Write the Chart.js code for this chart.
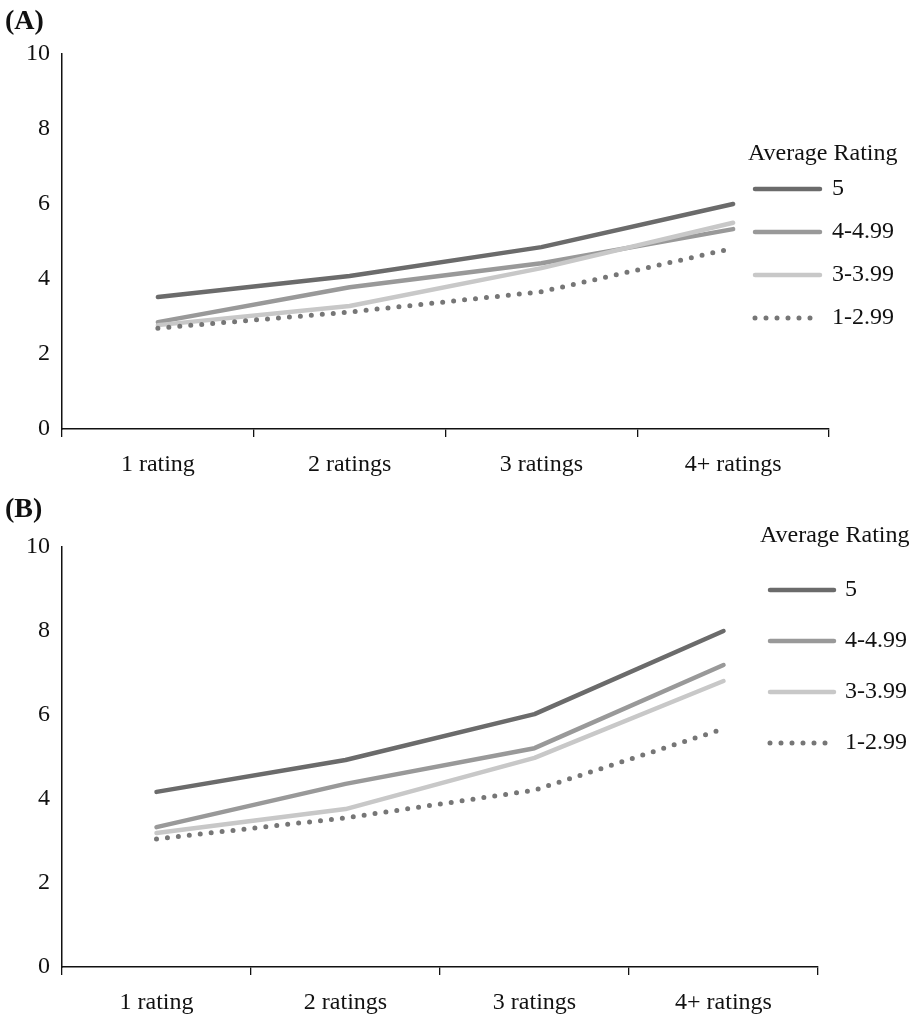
<!DOCTYPE html>
<html>
<head>
<meta charset="utf-8">
<script src="https://cdn.jsdelivr.net/npm/chart.js@4/dist/chart.umd.min.js"></script>
<style>
  html, body { margin: 0; padding: 0; background: #fff; }
  canvas { display: block; position: absolute; left: 0; }
  #cA { top: 0; }
  #cB { top: 480px; }
</style>
</head>
<body>
<canvas id="cA" width="921" height="480"></canvas>
<canvas id="cB" width="921" height="548"></canvas>
<script>
const categories = ["1 rating", "2 ratings", "3 ratings", "4+ ratings"];
const seriesLabels = ["5", "4-4.99", "3-3.99", "1-2.99"];
const yTicks = [0, 2, 4, 6, 8, 10];
const legendTitle = "Average Rating";

// Panel A
const panelA_5     = [3.52, 4.08, 4.85, 6.00];
const panelA_4     = [2.85, 3.78, 4.42, 5.33];
const panelA_3     = [2.77, 3.28, 4.29, 5.50];
const panelA_1     = [2.69, 3.12, 3.66, 4.82];
// Panel B
const panelB_5     = [4.17, 4.93, 6.02, 8.00];
const panelB_4     = [3.33, 4.36, 5.21, 7.19];
const panelB_3     = [3.19, 3.76, 4.98, 6.81];
const panelB_1     = [3.05, 3.55, 4.21, 5.67];

const FONT = '"Liberation Serif", "Times New Roman", serif';
const FSIZE = 24;
const styles = [
  { color: '#6b6b6b', dash: [], width: 4.5 },
  { color: '#999999', dash: [], width: 4.5 },
  { color: '#c8c8c8', dash: [], width: 4.5 },
  { color: '#767676', dash: [0, 11], width: 5 }
];

function makeDatasets(arrs) {
  return arrs.map((d, i) => ({
    label: seriesLabels[i],
    data: d,
    borderColor: styles[i].color,
    backgroundColor: styles[i].color,
    borderWidth: styles[i].width,
    borderDash: styles[i].dash,
    borderCapStyle: 'round',
    borderJoinStyle: 'round',
    pointRadius: 0,
    tension: 0,
    fill: false,
    order: 3 - i
  }));
}

const legendPlugin = {
  id: 'customLegend',
  afterDraw(chart, args, opts) {
    const ctx = chart.ctx;
    ctx.save();
    ctx.font = 'bold 28px ' + FONT;
    ctx.fillStyle = '#111';
    ctx.textBaseline = 'middle';
    ctx.textAlign = 'left';
    ctx.fillText(opts.tag, opts.tagX, opts.tagY);
    ctx.font = FSIZE + 'px ' + FONT;
    ctx.fillText(legendTitle, opts.titleX, opts.titleY);
    chart.data.datasets.forEach((ds, i) => {
      const y = opts.firstY + i * opts.gap;
      ctx.beginPath();
      ctx.strokeStyle = ds.borderColor;
      ctx.lineWidth = ds.borderWidth;
      ctx.lineCap = 'round';
      ctx.setLineDash(ds.borderDash || []);
      ctx.moveTo(opts.lineX0, y);
      ctx.lineTo(opts.lineX1, y);
      ctx.stroke();
      ctx.setLineDash([]);
      ctx.fillStyle = '#111';
      ctx.fillText(ds.label, opts.textX, y);
    });
    ctx.restore();
  }
};

function makeChart(id, arrs, cfg) {
  return new Chart(document.getElementById(id), {
    type: 'line',
    data: { labels: categories, datasets: makeDatasets(arrs) },
    options: {
      responsive: false,
      animation: false,
      layout: { padding: { top: cfg.top, right: cfg.right, left: 0, bottom: 0 } },
      plugins: {
        legend: { display: false },
        tooltip: { enabled: false },
        customLegend: cfg.legend
      },
      scales: {
        x: {
          type: 'category',
          offset: true,
          grid: { display: true, offset: true, drawOnChartArea: false, drawTicks: true, tickLength: 8, color: '#111', lineWidth: 1.3 },
          border: { display: true, color: '#111', width: 1.5 },
          ticks: { color: '#111', font: { family: FONT, size: FSIZE }, padding: cfg.xPad, maxRotation: 0 },
          afterFit(s) { s.height = cfg.xHeight; }
        },
        y: {
          min: 0, max: 10,
          afterBuildTicks(s) { s.ticks = yTicks.map(v => ({ value: v })); },
          grid: { display: false, drawTicks: false },
          border: { display: true, color: '#111', width: 1.5 },
          ticks: { color: '#111', font: { family: FONT, size: FSIZE }, padding: 12 },
          afterFit(s) { s.width = 62; }
        }
      }
    },
    plugins: [legendPlugin]
  });
}

makeChart('cA', [panelA_5, panelA_4, panelA_3, panelA_1], {
  top: 54, right: 92, xHeight: 51, xPad: 13,
  legend: { tag: '(A)', tagX: 5, tagY: 22, titleX: 748, titleY: 154,
            firstY: 189, gap: 43, lineX0: 755, lineX1: 820, textX: 832 }
});
makeChart('cB', [panelB_5, panelB_4, panelB_3, panelB_1], {
  top: 67, right: 103, xHeight: 61, xPad: 13,
  legend: { tag: '(B)', tagX: 5, tagY: 30, titleX: 760, titleY: 56,
            firstY: 110, gap: 51, lineX0: 770, lineX1: 834, textX: 845 }
});
</script>
</body>
</html>
